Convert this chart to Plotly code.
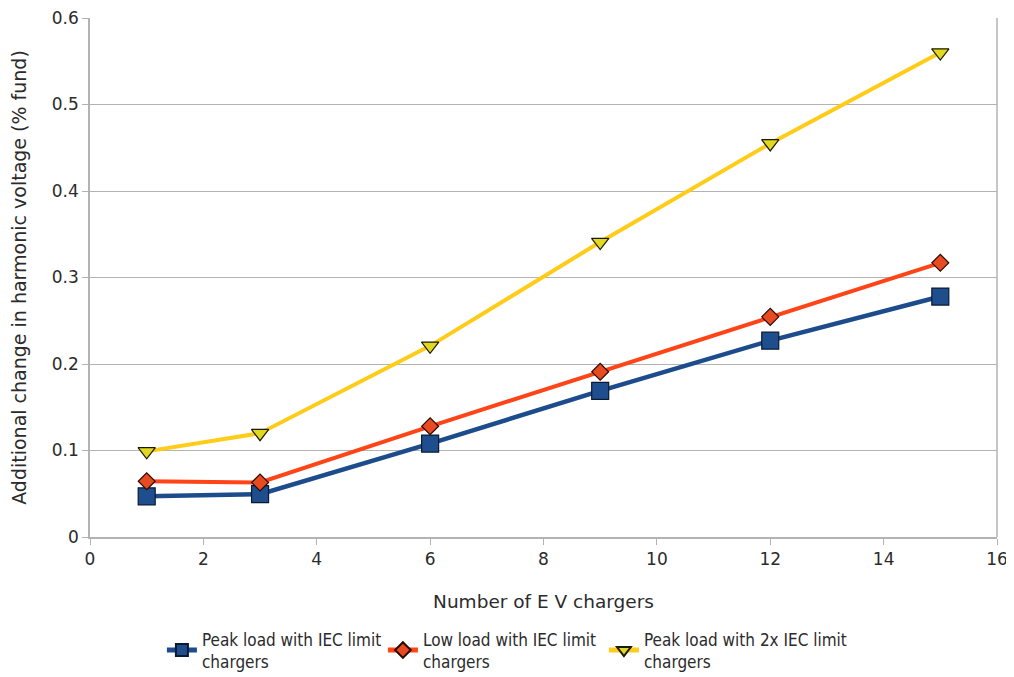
import plotly.graph_objects as go

x_vals = [1, 3, 6, 9, 12, 15]
peak_iec = [0.047, 0.0495, 0.108, 0.169, 0.227, 0.278]
low_iec = [0.0645, 0.063, 0.128, 0.191, 0.2545, 0.317]
peak_2x_iec = [0.099, 0.12, 0.221, 0.341, 0.455, 0.560]

names = ["Peak load with IEC limit<br>chargers",
         "Low load with IEC limit<br>chargers",
         "Peak load with 2x IEC limit<br>chargers"]

font_reg = "DejaVu Sans, sans-serif"
font_cond = "DejaVu Sans Condensed, DejaVu Sans, sans-serif"
txt_color = "#2b2b2b"
grid_color = "#b3b3b3"

fig = go.Figure()
fig.add_trace(go.Scatter(
    x=x_vals, y=peak_iec, name=names[0], mode="lines+markers",
    line=dict(color="#1d4c8c", width=4.5),
    marker=dict(symbol="square", size=17, color="#1f4e8f",
                line=dict(color="#0a1a30", width=1.2))))
fig.add_trace(go.Scatter(
    x=x_vals, y=low_iec, name=names[1], mode="lines+markers",
    line=dict(color="#ff4418", width=4),
    marker=dict(symbol="diamond", size=13, color="#e84a22",
                line=dict(color="#2a0a00", width=1.2))))
fig.add_trace(go.Scatter(
    x=x_vals, y=peak_2x_iec, name=names[2], mode="lines+markers",
    line=dict(color="#ffcc1a", width=4),
    marker=dict(symbol="triangle-down", size=15, color="#e2d820",
                line=dict(color="#1a1a00", width=1.2))))
# invisible spacer entry so the last legend label is not clipped
fig.add_trace(go.Scatter(
    x=[None], y=[None], name=" ", mode="lines",
    line=dict(color="rgba(0,0,0,0)", width=0), hoverinfo="skip"))

fig.update_layout(
    width=1006, height=669,
    margin=dict(l=82, r=17, t=10, b=140),
    paper_bgcolor="white", plot_bgcolor="white",
    font=dict(family=font_reg, size=17, color=txt_color),
    showlegend=True,
    legend=dict(orientation="h", xref="container", yref="container",
                x=0.153, xanchor="left", y=0.083, yanchor="top",
                font=dict(family=font_cond, size=17, color=txt_color),
                itemwidth=30, itemsizing="constant", tracegroupgap=0,
                entrywidth=176, entrywidthmode="pixels"),
    xaxis=dict(range=[0, 16], dtick=2, tick0=0, automargin=False,
               showgrid=False, showline=True, linecolor=grid_color,
               linewidth=1.5, mirror=False, ticks="outside",
               ticklen=6, tickcolor=grid_color, zeroline=False,
               ticklabeloverflow="allow",
               title=dict(text="Number of E V chargers", standoff=27,
                          font=dict(size=18.5)),
               tickfont=dict(size=17)),
    yaxis=dict(range=[0, 0.6], dtick=0.1, tick0=0, automargin=False,
               showgrid=True, gridcolor=grid_color, gridwidth=1.2,
               showline=True, linecolor=grid_color, linewidth=1.5,
               ticks="outside", ticklen=6, tickcolor=grid_color,
               zeroline=False, ticklabeloverflow="allow",
               title=dict(text="Additional change in harmonic voltage (% fund)",
                          standoff=24, font=dict(size=19)),
               tickfont=dict(size=17)),
)
fig.add_shape(type="line", xref="paper", yref="paper", x0=1, x1=1, y0=0, y1=1,
              line=dict(color=grid_color, width=1.5))

fig.write_html("out.html")
